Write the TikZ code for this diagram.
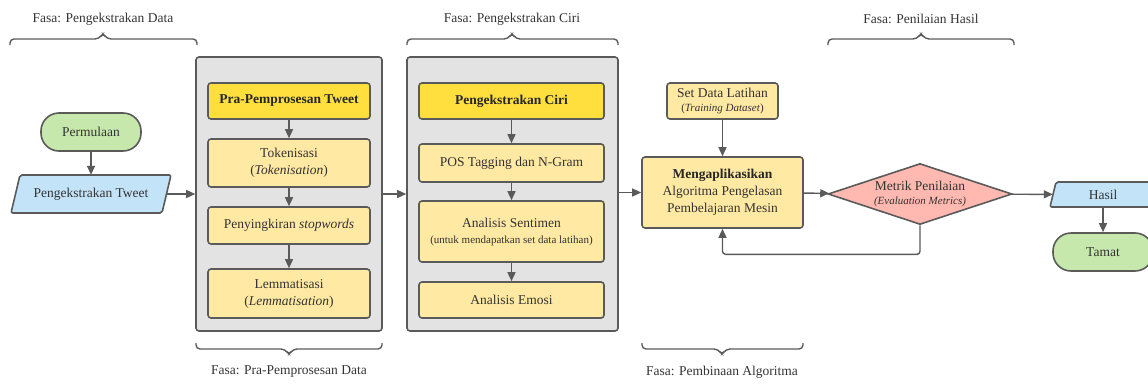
\documentclass[tikz,border=0pt]{standalone}
\usepackage{fontspec}
\setmainfont{Liberation Serif}
\usetikzlibrary{arrows.meta,shapes.geometric}
\definecolor{ln}{HTML}{5A5A5A}
\definecolor{txt}{HTML}{333333}
\definecolor{grayfill}{HTML}{E3E3E3}
\definecolor{ybold}{HTML}{FFDF3E}
\definecolor{ylight}{HTML}{FFE9A3}
\definecolor{gfill}{HTML}{C7E8AC}
\definecolor{bfill}{HTML}{C3E4F8}
\definecolor{pfill}{HTML}{FFB9B0}
\begin{document}
\begin{tikzpicture}[x=1pt,y=-1pt,
  every node/.style={font=\fontsize{13.5}{17}\selectfont, text=txt, inner sep=0pt, align=center},
  arr/.style={draw=ln, line width=1.4pt, -{Triangle[length=9pt,width=8pt]}},
  grp/.style={draw=ln, fill=grayfill, line width=1.6pt, rounded corners=3pt},
  ybox/.style={draw=ln, fill=ylight, line width=1.6pt, rounded corners=3pt},
  yhead/.style={draw=ln, fill=ybold, line width=1.6pt, rounded corners=3pt, font=\fontsize{13.5}{17}\selectfont\bfseries, text=black!85},
  term/.style={draw=ln, fill=gfill, line width=1.6pt, rounded corners=18pt, minimum width=100, minimum height=38},
  bracepath/.style={draw=ln, line width=1.4pt, rounded corners=4pt},
]
\useasboundingbox (0,0) rectangle (1148,383);

% phase labels
\node (l1) at (103,19) {Fasa: Pengekstrakan Data};
\node (l2) at (512,19) {Fasa: Pengekstrakan Ciri};
\node (l3) at (921,19) {Fasa: Penilaian Hasil};
\node (l4) at (289,372) {Fasa: Pra-Pemprosesan Data};
\node (l5) at (722,372) {Fasa: Pembinaan Algoritma};

% braces (top)
\draw[bracepath] (10,45) -- (10,39) -- (99,39) -- (103,33) -- (107,39) -- (197,39) -- (197,45);
\draw[bracepath] (407,45) -- (407,39) -- (508,39) -- (512,33) -- (516,39) -- (618,39) -- (618,45);
\draw[bracepath] (828,45) -- (828,39) -- (917,39) -- (921,33) -- (925,39) -- (1014,39) -- (1014,45);
% braces (bottom)
\draw[bracepath] (196,343) -- (196,349) -- (285,349) -- (289,355) -- (293,349) -- (382,349) -- (382,343);
\draw[bracepath] (642,343) -- (642,349) -- (718,349) -- (722,355) -- (726,349) -- (803,349) -- (803,343);

% start
\node[term] (start) at (91,132) {Permulaan};
% parallelogram: Pengekstrakan Tweet
\fill[bfill] (11,213) -- (20,175) -- (171,175) -- (162,213) -- cycle;
\draw[ln, line width=1.6pt, rounded corners=2pt] (11,213) -- (20,175) -- (171,175) -- (162,213) -- cycle;
\node[minimum width=151, minimum height=38] (tweet) at (91,194) {Pengekstrakan Tweet};

% group boxes
\node[grp, minimum width=186, minimum height=274] (g1) at (289,194) {};
\node[grp, minimum width=211, minimum height=274] (g2) at (512.5,194) {};

% column 1
\node[yhead, minimum width=162, minimum height=36] (pra) at (289,101) {Pra-Pemprosesan Tweet};
\node[ybox, minimum width=162, minimum height=48] (tok) at (289,163) {Tokenisasi\\(\textit{Tokenisation})};
\node[ybox, minimum width=162, minimum height=37] (sw) at (289,225.5) {Penyingkiran \textit{stopwords}};
\node[ybox, minimum width=162, minimum height=49] (lem) at (289,293.5) {Lemmatisasi\\(\textit{Lemmatisation})};

% column 2
\node[yhead, minimum width=185, minimum height=36] (pc) at (511.5,101) {Pengekstrakan Ciri};
\node[ybox, minimum width=185, minimum height=38] (pos) at (511.5,163) {POS Tagging dan N-Gram};
\node[ybox, minimum width=185, minimum height=61] (as) at (511.5,231.5) {Analisis Sentimen\\[-1pt]{\fontsize{11}{13}\selectfont (untuk mendapatkan set data latihan)}};
\node[ybox, minimum width=185, minimum height=36] (ae) at (511.5,300) {Analisis Emosi};

% algorithm
\node[ybox, minimum width=111, minimum height=36] (set) at (722.5,101) {Set Data Latihan\\[-3pt]{\fontsize{11}{13}\selectfont (\textit{Training Dataset})}};
\node[ybox, minimum width=161, minimum height=71] (map) at (722.5,192.5) {{\bfseries\color{black!85}Mengaplikasikan}\\Algoritma Pengelasan\\Pembelajaran Mesin};

% metric
\node[diamond, draw=ln, fill=pfill, line width=1.6pt, minimum width=184, minimum height=61, inner sep=0pt] (met) at (920,194) {};
\node (mettxt) at (920,194) {Metrik Penilaian\\[-3pt]{\fontsize{11}{13}\selectfont\itshape (Evaluation Metrics)}};

% results
\fill[bfill] (1050,207) -- (1056,182) -- (1160,182) -- (1154,207) -- cycle;
\draw[ln, line width=1.6pt, rounded corners=2pt] (1050,207) -- (1056,182) -- (1160,182) -- (1154,207) -- cycle;
\node[minimum width=100, minimum height=25] (hasil) at (1103,194.5) {Hasil};
\node[term] (end) at (1103,252) {Tamat};

% connectors
\draw[arr] (start) -- (tweet.north -| start);
\draw[arr] (tweet) -- (g1);
\draw[arr] (pra) -- (tok);
\draw[arr] (tok) -- (sw);
\draw[arr] (sw) -- (lem);
\draw[arr] (g1) -- (g2);
\draw[arr] (pc) -- (pos);
\draw[arr] (pos) -- (as);
\draw[arr] (as) -- (ae);
\draw[arr] (g2.east |- map) -- (map);
\draw[arr] (set) -- (map);
\draw[arr] (map) -- (met);
\draw[arr] (met) -- (hasil);
\draw[arr] (hasil) -- (end);
\draw[arr, rounded corners=3pt] (met.south) -- ++(0,29) -| (map.south);
\end{tikzpicture}
\end{document}
